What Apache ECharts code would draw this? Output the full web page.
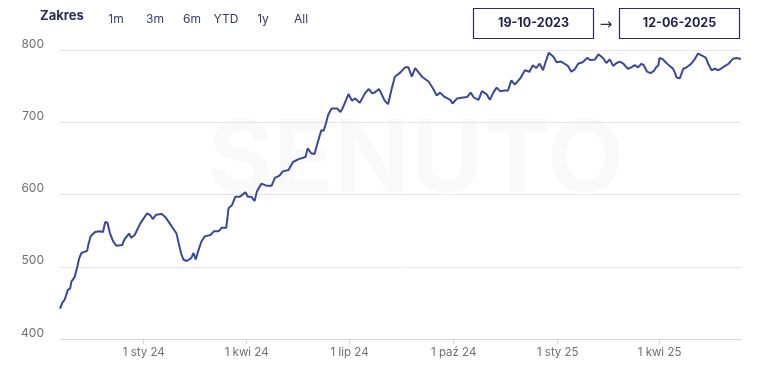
<!DOCTYPE html>
<html>
<head>
<meta charset="utf-8">
<script src="https://cdn.jsdelivr.net/npm/echarts@6/dist/echarts.min.js"></script>
<style>
html,body{margin:0;padding:0;background:#fff;}
#c{width:772px;height:379px;}
</style>
</head>
<body>
<div id="c"></div>
<script>
const dates = [
'2023-10-19','2023-10-20','2023-10-21','2023-10-23','2023-10-26','2023-10-28','2023-10-29',
'2023-11-01','2023-11-03','2023-11-05','2023-11-07','2023-11-12','2023-11-13','2023-11-15','2023-11-19','2023-11-23','2023-11-26','2023-11-28','2023-11-30',
'2023-12-02','2023-12-05','2023-12-08','2023-12-13','2023-12-15','2023-12-19','2023-12-21','2023-12-24','2023-12-29',
'2024-01-01','2024-01-04','2024-01-07','2024-01-09','2024-01-12','2024-01-17','2024-01-20','2024-01-24','2024-01-27','2024-01-30',
'2024-02-01','2024-02-03','2024-02-05','2024-02-08','2024-02-12','2024-02-14','2024-02-16','2024-02-18','2024-02-21','2024-02-24','2024-02-29',
'2024-03-03','2024-03-07','2024-03-10','2024-03-14','2024-03-16','2024-03-19','2024-03-22','2024-03-26','2024-03-31',
'2024-04-02','2024-04-05','2024-04-08','2024-04-10','2024-04-14','2024-04-19','2024-04-23','2024-04-26','2024-04-30',
'2024-05-03','2024-05-08','2024-05-12','2024-05-17','2024-05-23','2024-05-25','2024-05-28','2024-05-31',
'2024-06-03','2024-06-06','2024-06-08','2024-06-10','2024-06-12','2024-06-15','2024-06-20','2024-06-23','2024-06-25','2024-06-30',
'2024-07-03','2024-07-06','2024-07-10','2024-07-15','2024-07-18','2024-07-21','2024-07-23','2024-07-27','2024-07-29',
'2024-08-01','2024-08-04','2024-08-07','2024-08-10','2024-08-15','2024-08-19','2024-08-22','2024-08-25','2024-08-28','2024-08-31',
'2024-09-03','2024-09-09','2024-09-13','2024-09-16','2024-09-19','2024-09-23','2024-09-28','2024-09-30',
'2024-10-04','2024-10-08','2024-10-13','2024-10-16','2024-10-19','2024-10-23','2024-10-26','2024-10-30',
'2024-11-02','2024-11-05','2024-11-08','2024-11-11','2024-11-15','2024-11-18','2024-11-21','2024-11-24','2024-11-29',
'2024-12-03','2024-12-07','2024-12-10','2024-12-13','2024-12-16','2024-12-19','2024-12-21','2024-12-24','2024-12-28','2024-12-31',
'2025-01-04','2025-01-07','2025-01-10','2025-01-13','2025-01-16','2025-01-19','2025-01-23','2025-01-27','2025-01-30',
'2025-02-03','2025-02-06','2025-02-10','2025-02-13','2025-02-16','2025-02-19','2025-02-22','2025-02-25','2025-02-28',
'2025-03-04','2025-03-07','2025-03-10','2025-03-13','2025-03-16','2025-03-18','2025-03-21','2025-03-24','2025-03-27','2025-03-29','2025-03-31',
'2025-04-01','2025-04-04','2025-04-07','2025-04-10','2025-04-13','2025-04-15','2025-04-16','2025-04-19','2025-04-22','2025-04-25','2025-04-29',
'2025-05-02','2025-05-05','2025-05-09','2025-05-12','2025-05-14','2025-05-17','2025-05-20','2025-05-23','2025-05-26','2025-05-29',
'2025-06-01','2025-06-02','2025-06-05','2025-06-08','2025-06-11','2025-06-12'
];
const values = [
442,444,450,454,468,470,479,
486,498,512,519,522,530,542,548,549,548,562,561,
547,535,529,530,538,546,540,544,560,
567,574,571,566,572,573,569,560,553,546,
532,519,510,508,512,519,510,521,535,542,544,
549,549,554,554,581,585,597,597,603,
597,597,591,604,615,612,612,623,626,
632,634,645,649,652,664,657,656,
673,689,688,698,710,719,719,714,720,739,
730,733,727,741,746,740,741,746,740,
730,725,745,763,769,776,776,763,775,769,
763,756,746,737,741,735,731,726,
733,734,735,741,734,731,743,739,
731,741,748,743,744,744,758,752,761,
772,770,779,775,781,772,782,796,791,783,
784,781,778,770,773,781,783,789,786,
787,794,789,782,787,778,782,784,781,
774,776,779,776,781,779,770,768,771,776,779,
789,787,782,778,774,767,762,761,774,776,781,
787,795,792,789,781,772,774,772,775,778,
781,783,788,789,788,788
];
const xTickDates = ['2024-01-01','2024-04-01','2024-07-01','2024-10-01','2025-01-01','2025-04-01'];
const xTickLabels = ['1 sty 24','1 kwi 24','1 lip 24','1 paź 24','1 sty 25','1 kwi 25'];
const yTicks = [400,500,600,700,800];
const rangeButtons = ['1m','3m','6m','YTD','1y','All'];
const dateFrom = '19-10-2023';
const dateTo = '12-06-2025';

const ts = s => { const p = s.split('-').map(Number); return Date.UTC(p[0], p[1]-1, p[2]); };
const seriesData = dates.map((d,i) => [ts(d), values[i]]);
const tickTs = xTickDates.map(ts);
const labelMap = {};
tickTs.forEach((t,i) => labelMap[t] = xTickLabels[i]);

const chart = echarts.init(document.getElementById('c'), null, {renderer:'canvas'});
const font = 'Inter, "Noto Sans", sans-serif';
const btnX = [116, 155, 192, 226, 263, 301];
const graphics = [
  {type:'text', left:40, top:10, style:{text:'Zakres', font:'bold 13px ' + font, fill:'#2b2d5a'}},
  ...rangeButtons.map((b,i)=>({type:'text', x:btnX[i], y:19, style:{text:b, font:'12px ' + font, fill:'#3a3c66', align:'center', verticalAlign:'middle'}})),
  {type:'rect', shape:{x:473.5, y:8.5, width:120, height:30}, style:{fill:'#fff', stroke:'#2a2d55', lineWidth:1.2}},
  {type:'text', x:533.5, y:23.5, style:{text:dateFrom, font:'bold 12.5px ' + font, fill:'#1f2150', align:'center', verticalAlign:'middle'}},
  {type:'text', x:606, y:25, style:{text:'→', font:'15px "DejaVu Sans", sans-serif', fill:'#2a2d55', align:'center', verticalAlign:'middle'}},
  {type:'rect', shape:{x:619.5, y:8.5, width:120, height:30}, style:{fill:'#fff', stroke:'#2a2d55', lineWidth:1.2}},
  {type:'text', x:679.5, y:23.5, style:{text:dateTo, font:'bold 12.5px ' + font, fill:'#1f2150', align:'center', verticalAlign:'middle'}},
  {type:'text', x:416, y:162, z:-1, style:{text:'SENUTO', font:'bold 100px ' + font, fill:'rgba(0,0,0,0.022)', align:'center', verticalAlign:'middle'}}
];

chart.setOption({
  animation:false,
  backgroundColor:'#fff',
  grid:{left:60, right:31, top:50, bottom:40, containLabel:false},
  graphic: graphics,
  xAxis:{
    type:'value',
    min: ts(dates[0]),
    max: ts(dates[dates.length-1]),
    axisLine:{show:true, lineStyle:{color:'#d6d6dc', width:1}},
    axisTick:{show:true, customValues: tickTs, length:5, lineStyle:{color:'#d6d6dc'}},
    axisLabel:{customValues: tickTs, formatter: v => labelMap[v] || '', color:'#6f6f75', fontSize:11.5, fontFamily:font, margin:8},
    splitLine:{show:false}
  },
  yAxis:{
    type:'value',
    min: yTicks[0], max: yTicks[yTicks.length-1], interval:100,
    axisLine:{show:false}, axisTick:{show:false},
    axisLabel:{color:'#6f6f75', fontSize:12, fontFamily:font, margin:16, verticalAlign:'bottom'},
    splitLine:{lineStyle:{color:'#e6e6ea', width:1}}
  },
  series:[{
    type:'line',
    data: seriesData,
    showSymbol:false,
    smooth:false,
    lineStyle:{color:'#3a489c', width:2},
    itemStyle:{color:'#3a489c'}
  }]
});
</script>
</body>
</html>
